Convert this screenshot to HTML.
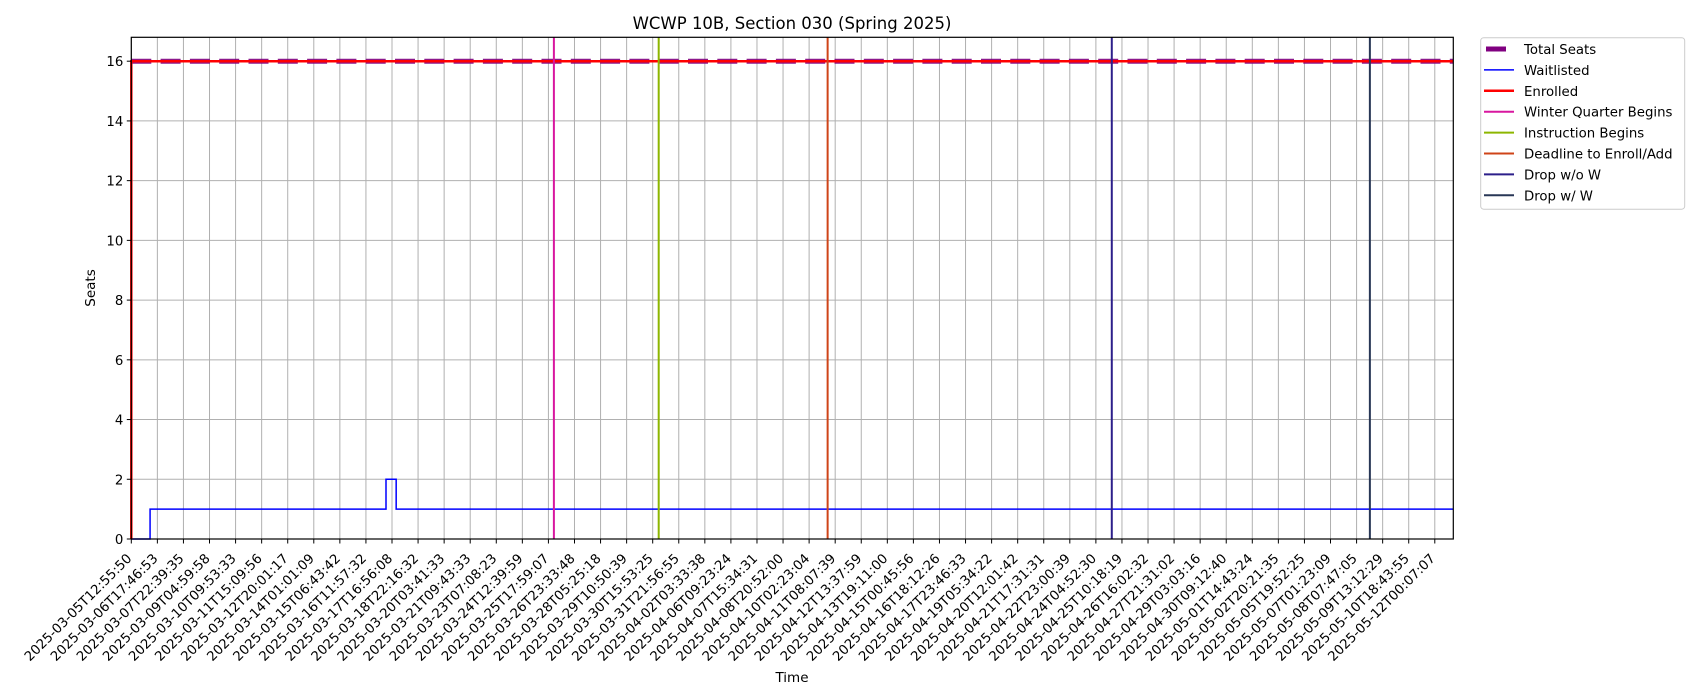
<!DOCTYPE html>
<html><head><meta charset="utf-8"><style>
body{margin:0;background:#fff;}
svg{display:block;font-family:"DejaVu Sans","Liberation Sans",sans-serif;}
</style></head><body>
<svg id="chart" width="1700" height="700" xmlns="http://www.w3.org/2000/svg">
<rect width="1700" height="700" fill="#fff"/>
<text x="792" y="29" font-size="16.5" text-anchor="middle">WCWP 10B, Section 030 (Spring 2025)</text>
<g id="grid"></g>
<g id="marks"></g>
<rect x="131.3" y="37.3" width="1322" height="501.7" fill="none" stroke="#000" stroke-width="1.2"/>
<g id="axes"></g>
<text transform="translate(95,288) rotate(-90)" font-size="13.5" text-anchor="middle">Seats</text>
<text x="792" y="682" font-size="13.5" text-anchor="middle">Time</text>
<g>
<rect x="1480.7" y="37.7" width="204" height="171.5" rx="3" fill="#fff" stroke="#ccc" stroke-width="1"/>
<g id="legend-items"></g>
</g>
</svg>
<script>
const tickLabels=["2025-03-05T12:55:50","2025-03-06T17:46:53","2025-03-07T22:39:35","2025-03-09T04:59:58","2025-03-10T09:53:33","2025-03-11T15:09:56","2025-03-12T20:01:17","2025-03-14T01:01:09","2025-03-15T06:43:42","2025-03-16T11:57:32","2025-03-17T16:56:08","2025-03-18T22:16:32","2025-03-20T03:41:33","2025-03-21T09:43:33","2025-03-23T07:08:23","2025-03-24T12:39:59","2025-03-25T17:59:07","2025-03-26T23:33:48","2025-03-28T05:25:18","2025-03-29T10:50:39","2025-03-30T15:53:25","2025-03-31T21:56:55","2025-04-02T03:33:38","2025-04-06T09:23:24","2025-04-07T15:34:31","2025-04-08T20:52:00","2025-04-10T02:23:04","2025-04-11T08:07:39","2025-04-12T13:37:59","2025-04-13T19:11:00","2025-04-15T00:45:56","2025-04-16T18:12:26","2025-04-17T23:46:33","2025-04-19T05:34:22","2025-04-20T12:01:42","2025-04-21T17:31:31","2025-04-22T23:00:39","2025-04-24T04:52:30","2025-04-25T10:18:19","2025-04-26T16:02:32","2025-04-27T21:31:02","2025-04-29T03:03:16","2025-04-30T09:12:40","2025-05-01T14:43:24","2025-05-02T20:21:35","2025-05-05T19:52:25","2025-05-07T01:23:09","2025-05-08T07:47:05","2025-05-09T13:12:29","2025-05-10T18:43:55","2025-05-12T00:07:07"];
const yTicks=[0,2,4,6,8,10,12,14,16];
const waitX=[0,0.72,9.77,10.16,50.71];
const waitY=[0,1,2,1,1];
const enrolledX=[0,0,50.71];
const enrolledY=[0,16,16];
const totalSeats=16;
const eventNames=["Winter Quarter Begins","Instruction Begins","Deadline to Enroll/Add","Drop w/o W","Drop w/ W"];
const eventX=[16.21,20.23,26.71,37.61,47.51];
const eventColors=["#d8179f","#8db600","#cf4418","#2c1f8a","#283756"];
const X0=131.3,X1=1453.3,Y0=539,Y1=37.3,XMAX=50.71,YMAX=16.8;
const sx=v=>X0+v/XMAX*(X1-X0);
const sy=v=>Y0-v/YMAX*(Y0-Y1);
const NS="http://www.w3.org/2000/svg";
function mk(tag,attrs,parent){const e=document.createElementNS(NS,tag);for(const k in attrs)e.setAttribute(k,attrs[k]);parent.appendChild(e);return e;}
const grid=document.getElementById('grid'),marks=document.getElementById('marks'),axes=document.getElementById('axes');
tickLabels.forEach((lab,i)=>{
  const x=sx(i);
  const g=mk('line',{x1:x,x2:x,y1:Y1,y2:Y0,stroke:'#b0b0b0','stroke-width':1},grid);
  
  
  const t=mk('line',{x1:x,x2:x,y1:Y0,y2:Y0+4.5,stroke:'#000','stroke-width':1},axes);
  
  
  const tx=mk('text',{transform:`translate(${x-5},${Y0+14}) rotate(-45)`,'font-size':13.3,'text-anchor':'end','dominant-baseline':'hanging'},axes);
  tx.textContent=lab;
  
  
});
yTicks.forEach(v=>{
  const y=sy(v);
  const g=mk('line',{x1:X0,x2:X1,y1:y,y2:y,stroke:'#b0b0b0','stroke-width':1},grid);
  
  
  const t=mk('line',{x1:X0-4.5,x2:X0,y1:y,y2:y,stroke:'#000','stroke-width':1},axes);
  
  
  const tx=mk('text',{x:X0-8,y:y+5,'font-size':13.3,'text-anchor':'end'},axes);
  tx.textContent=v;
  
  
});
function stepPath(xs,ys){let d=`M${sx(xs[0])},${sy(ys[0])}`;for(let i=1;i<xs.length;i++){d+=`H${sx(xs[i])}V${sy(ys[i])}`;}return d;}
const ts=mk('line',{x1:X0,x2:X1,y1:sy(totalSeats),y2:sy(totalSeats),stroke:'#800080','stroke-width':5,'stroke-dasharray':'20,9.3','stroke-opacity':0.9},marks);


const wl=mk('path',{d:stepPath(waitX,waitY),fill:'none',stroke:'#0000ff','stroke-width':1.5},marks);


let ed=`M${sx(enrolledX[0])},${sy(enrolledY[0])}`;for(let i=1;i<enrolledX.length;i++)ed+=`L${sx(enrolledX[i])},${sy(enrolledY[i])}`;
const en=mk('path',{d:ed,fill:'none',stroke:'#ff0000','stroke-width':2.5},marks);


eventX.forEach((v,i)=>{
  const l=mk('line',{x1:sx(v),x2:sx(v),y1:Y1,y2:Y0,stroke:eventColors[i],'stroke-width':2},marks);
  
  
});
const li=document.getElementById('legend-items');
const legNames=["Total Seats","Waitlisted","Enrolled"].concat(eventNames);
const legColors=["#800080","#0000ff","#ff0000"].concat(eventColors);
const legW=[5,1.5,2.5,2,2,2,2,2];
legNames.forEach((n,i)=>{
  const y=49+i*20.9;
  const h=mk('line',{x1:i==0?1486:1484,x2:i==0?1506:1514,y1:y,y2:y,stroke:legColors[i],'stroke-width':legW[i]},li);
  
  
  const t=mk('text',{x:1524,y:y+5,'font-size':13.3},li);
  t.textContent=n;
  
  
});
</script>
</body></html>
